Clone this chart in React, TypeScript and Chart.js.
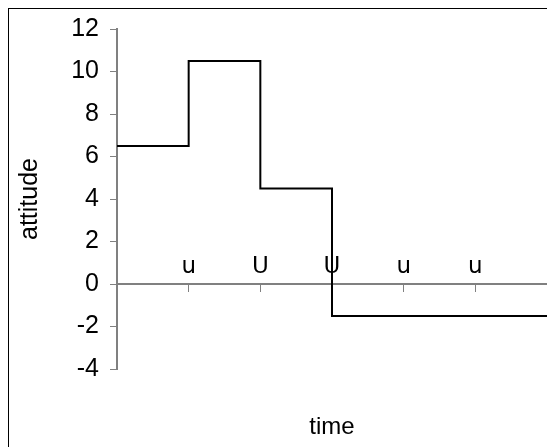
import React, { useEffect, useRef } from "react";
import { Chart, registerables } from "chart.js";

Chart.register(...registerables);

const times = [0, 1, 2, 3, 6];
const attitude = [6.5, 10.5, 4.5, -1.5, -1.5];
const timeLabels = ["", "u", "U", "U", "u", "u", ""];
const yMin = -4;
const yMax = 12;
const yStep = 2;
const xMin = 0;
const xMax = 6;

export default function App() {
  const ref = useRef<HTMLCanvasElement | null>(null);
  useEffect(() => {
    document.body.style.overflow = "hidden";
    const canvas = ref.current;
    if (!canvas) return;
    const axisGray = "#808080";
    const chart = new Chart(canvas, {
      type: "line",
      data: {
        datasets: [
          {
            data: times.map((t, i) => ({ x: t, y: attitude[i] })),
            borderColor: "#000000",
            borderWidth: 2,
            pointRadius: 0,
            stepped: true,
            fill: false,
            xAxisID: "x",
            yAxisID: "y",
          },
        ],
      },
      options: {
        responsive: false,
        animation: false,
        events: [],
        layout: { padding: { top: 20, right: 8, left: 0, bottom: 0 } },
        plugins: { legend: { display: false }, tooltip: { enabled: false } },
        scales: {
          x: {
            type: "linear",
            position: { y: 0 } as any,
            min: xMin,
            max: xMax,
            grid: {
              drawOnChartArea: false,
              drawTicks: true,
              tickLength: 7,
              tickWidth: 1,
              tickColor: axisGray,
            },
            border: { display: true, color: axisGray, width: 2 },
            ticks: {
              stepSize: 1,
              autoSkip: false,
              maxRotation: 0,
              padding: -38,
              color: "#000000",
              font: { family: "DejaVu Sans", size: 23 },
              callback: (v: any) => timeLabels[Number(v)] ?? "",
            },
          },
          x2: {
            type: "linear",
            axis: "x",
            position: "bottom",
            min: 0,
            max: 1,
            grid: { display: false },
            border: { display: false },
            ticks: { display: false },
            title: {
              display: true,
              text: "time",
              color: "#000000",
              font: { family: "Liberation Sans", size: 24 },
              padding: { top: 4, bottom: 5 },
            },
            afterFit: (s: any) => {
              s.height = 78;
            },
          },
          y: {
            type: "linear",
            position: "left",
            min: yMin,
            max: yMax,
            grid: {
              drawOnChartArea: false,
              drawTicks: true,
              tickLength: 7,
              tickWidth: 1,
              tickColor: axisGray,
            },
            border: { display: true, color: axisGray, width: 2 },
            ticks: {
              stepSize: yStep,
              padding: 11,
              color: "#000000",
              font: { family: "Liberation Sans", size: 25 },
            },
            title: {
              display: true,
              text: "attitude",
              color: "#000000",
              font: { family: "Liberation Sans", size: 25 },
              padding: { top: 6, bottom: 4 },
            },
            afterFit: (s: any) => {
              s.width = 108;
              s.paddingTop = 0;
              s.paddingBottom = 0;
            },
          },
        },
      },
    });
    return () => chart.destroy();
  }, []);
  return (
    <div
      style={{
        marginTop: -1,
        marginLeft: -1,
        borderTop: "2px solid #000",
        borderLeft: "2px solid #000",
        width: 546,
        height: 438,
      }}
    >
      <canvas ref={ref} width={546} height={438} style={{ display: "block" }} />
    </div>
  );
}
